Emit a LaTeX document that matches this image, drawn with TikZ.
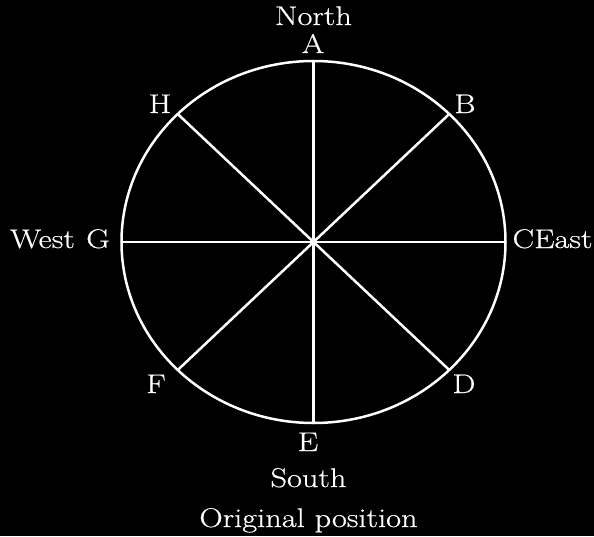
\documentclass[tikz,border=0pt]{standalone}
\usepackage{fontspec}
\setmainfont{Latin Modern Roman}[FakeStretch=1.2, FakeBold=0.5]
\usetikzlibrary{calc,backgrounds}
\definecolor{Ink}{HTML}{FFFFFF}
\definecolor{Board}{HTML}{000000}
\tikzset{
    rim/.style={Ink, line width=2.5pt},
    spoke/.style={Ink, line width=2.5pt},
    lbl/.style={text=Ink, font=\fontsize{27}{31}\selectfont, inner sep=0pt, anchor=base},
}

\begin{document}
\begin{tikzpicture}[x=1pt, y=1pt]
\fill[Board] (-313.5,-294) rectangle (280.5,242);
\useasboundingbox (-313.5,-294) rectangle (280.5,242);

\coordinate (O) at (0,0);
\foreach \pt/\ang in {a/90, b/45, c/0, d/-45, e/-90, f/-135, g/180, h/135}
    \coordinate (rim-\pt) at (\ang:192 and 181);

\draw[rim] (O) ellipse (192 and 181);
\foreach \pt in {a,b,c,d,e,f,g,h}
    \draw[spoke] (O) -- (rim-\pt);

% letters round the rim
\node[lbl] (A) at (-0.5,189) {A};
\node[lbl] (B) at (151.5,129) {B};
\node[lbl] (Cx) at (239,-6) {CEast};
\node[lbl] (D) at (150.5,-151) {D};
\node[lbl] (E) at (-5.5,-209) {E};
\node[lbl] (F) at (-157.5,-151) {F};
\node[lbl] (G) at (-215.5,-6) {G};
\node[lbl] (H) at (-153.5,129) {H};

% directions
\node[lbl] (north) at (0,217) {North};
\node[lbl] (west) at (-271,-6) {West};
\node[lbl] (south) at (-5,-245) {South};
\node[lbl] (caption) at (-5,-285) {Original position};
\end{tikzpicture}
\end{document}
